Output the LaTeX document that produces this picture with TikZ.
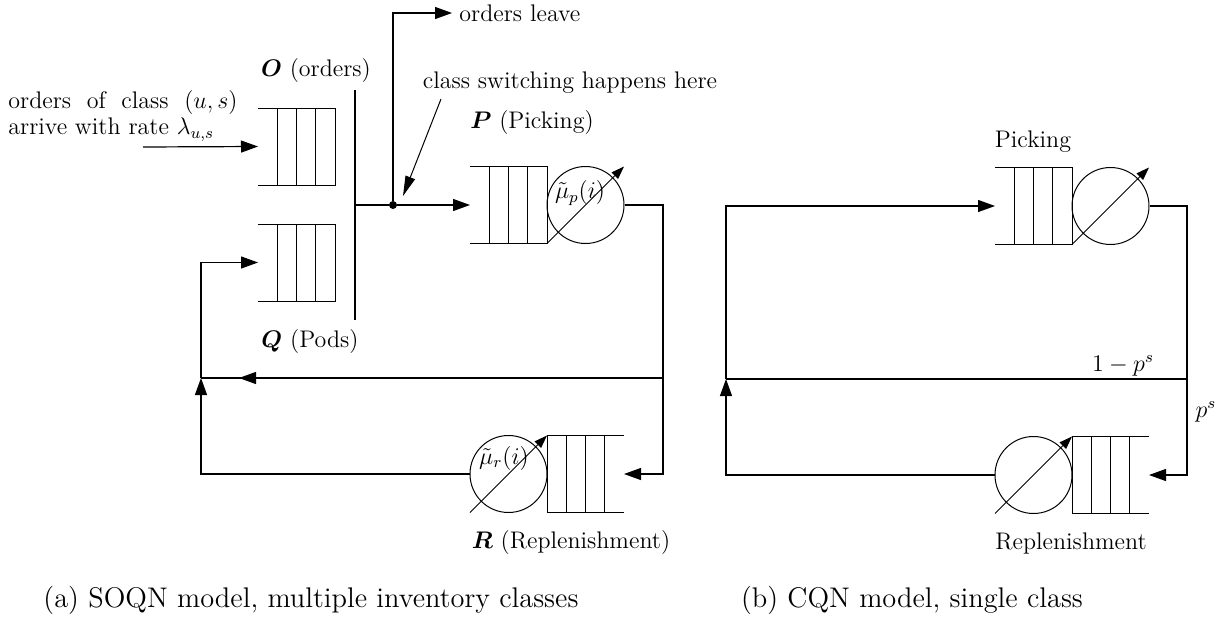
\documentclass[tikz,border=0pt]{standalone}
\usepackage{amsmath}
\usepackage{bm}
\usepackage{fontspec}
\usetikzlibrary{arrows.meta,calc}

\tikzset{
  conn/.style={line width=0.6pt},
  arr/.style={conn,-{Triangle[length=8.5pt,width=6pt]}},
  diag/.style={line width=0.5pt,-{Triangle[length=6.5pt,width=4.5pt]}},
  pointer/.style={line width=0.5pt,-{Triangle[length=10pt,width=5pt]}},
  server/.style={circle,draw,line width=0.5pt,minimum size=38.5pt,inner sep=0pt},
  jdot/.style={circle,fill,minimum size=4pt,inner sep=0pt},
  lbl/.style={font=\fontsize{12}{13}\selectfont,inner sep=0pt},
  captxt/.style={font=\fontsize{14.2}{16}\selectfont,inner sep=0pt},
  % waiting line, open on the left, closed end at the pic origin
  queueleft/.pic={
    \draw[line width=0.5pt] (-77,-38.5) -- (0,-38.5) -- (0,38.5) -- (-77,38.5);
    \foreach \k in {1,2,3} \draw[line width=0.5pt] (-19.25*\k,-38.5) -- (-19.25*\k,38.5);
    \coordinate (-in) at (-77,0);
  },
  % waiting line, open on the right, closed end at the pic origin
  queueright/.pic={
    \draw[line width=0.5pt] (77,-38.5) -- (0,-38.5) -- (0,38.5) -- (77,38.5);
    \foreach \k in {1,2,3} \draw[line width=0.5pt] (19.25*\k,-38.5) -- (19.25*\k,38.5);
    \coordinate (-in) at (77,0);
  },
}

\begin{document}
\begin{tikzpicture}[x=0.5pt,y=-0.5pt]
\useasboundingbox (0,0) rectangle (1222,621);

% ---------- (a) SOQN ----------
\node[lbl,align=left,anchor=west] (arrtxt) at (8,116)
  {orders\ \ of\ \ class\ \ $(u,s)$\\arrive with rate $\lambda_{u,s}$};
\coordinate (src) at (143,147);

\pic (O) at (335,146.5) {queueleft};
\pic (Q) at (335,262.5) {queueleft};
\node[lbl] (Olbl) at (316,71) {$\bm{O}$ (orders)};
\node[lbl] (Qlbl) at (310,342) {$\bm{Q}$ (Pods)};
\draw[arr] (src) -- (O-in);

\coordinate (bartop) at (355,90);
\coordinate (barbot) at (355,320);
\draw[conn] (bartop) -- (barbot);
\coordinate (bj) at (355,205);
\node[jdot] (sw) at (393,205) {};
\draw[conn] (bj) -- (sw);

\coordinate (leavept) at (452,13);
\node[lbl,anchor=west] (leave) at (459,13) {orders leave};
\draw[arr] (sw) |- (leavept);

\node[lbl] (cs) at (570,83) {class switching happens here};
\coordinate (csfrom) at (441,99);
\draw[pointer] (csfrom) -- ($(sw)+(10,-9)$);

\pic (P) at (547,205) {queueleft};
\node[server] (Ps) at (585.5,205) {};
\draw[diag] ($(Ps)+(-38.5,38.5)$) -- ($(Ps)+(38.5,-38.5)$);
\node[lbl] (mup) at (580,193) {$\tilde{\mu}_p(i)$};
\node[lbl] (Plbl) at (532,123) {$\bm{P}$ (Picking)};
\draw[arr] (sw) -- (P-in);

\pic (R) at (547,474) {queueright};
\node[server] (Rs) at (508.5,474) {};
\draw[diag] ($(Rs)+(-38.5,38.5)$) -- ($(Rs)+(38.5,-38.5)$);
\node[lbl] (mur) at (504,458) {$\tilde{\mu}_r(i)$};
\node[lbl] (Rlbl) at (571,543) {$\bm{R}$ (Replenishment)};

\coordinate (rr) at (663,474);
\coordinate (split) at (663,378);
\draw[arr] (Ps.east) -| (rr) -- (R-in);
\coordinate (qm) at (201,378);
\coordinate (tipA) at (239,378);
\draw[conn] (split) -- (qm);
\draw[arr] (split) -- (tipA);
\draw[arr] (Rs.west) -| (qm);
\draw[arr] (qm) |- (Q-in);

% ---------- (b) CQN ----------
\pic (Pq) at (1072,206) {queueleft};
\node[server] (Pks) at (1110.5,206) {};
\draw[diag] ($(Pks)+(-38.5,38.5)$) -- ($(Pks)+(38.5,-38.5)$);
\node[lbl] (Pklbl) at (1033,142) {Picking};

\pic (Rq) at (1072,475) {queueright};
\node[server] (Rps) at (1033.5,475) {};
\draw[diag] ($(Rps)+(-38.5,38.5)$) -- ($(Rps)+(38.5,-38.5)$);
\node[lbl] (Rplbl) at (1071,543) {Replenishment};

\coordinate (rr2) at (1187,475);
\coordinate (split2) at (1187,379);
\draw[arr] (Pks.east) -| (rr2) -- (Rq-in);
\coordinate (lm) at (726,379);
\draw[conn] (split2) -- (lm);
\draw[arr] (Rps.west) -| (lm);
\draw[arr] (lm) |- (Pq-in);
\node[lbl] (stay) at (1123,366) {$1-p^s$};
\node[lbl] (go) at (1206,412) {$p^s$};

% ---------- captions ----------
\node[captxt] (capa) at (311,600) {(a) SOQN model, multiple inventory classes};
\node[captxt] (capb) at (912,600) {(b) CQN model, single class};
\end{tikzpicture}
\end{document}
